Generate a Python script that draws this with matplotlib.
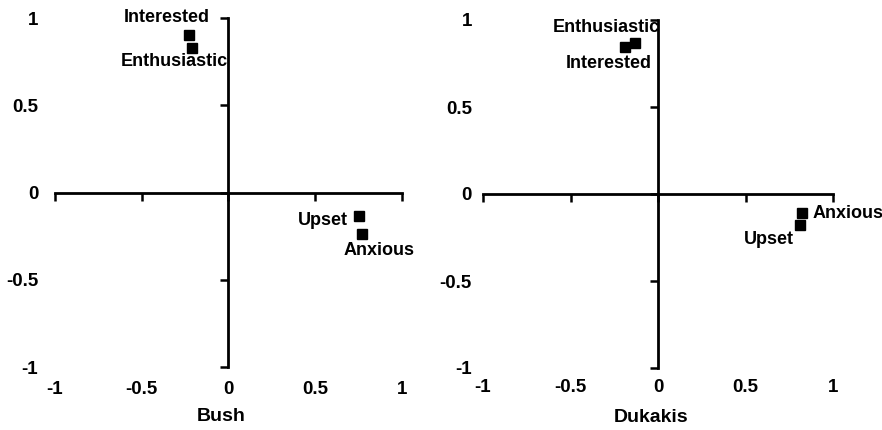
import matplotlib
matplotlib.use("Agg")
import matplotlib.pyplot as plt

plt.rcParams['font.family'] = ['Liberation Sans', 'DejaVu Sans']
plt.rcParams['axes.unicode_minus'] = False

# ---- data ----
ticks = [-1, -0.5, 0, 0.5, 1]
tick_labels = ["-1", "-0.5", "0", "0.5", "1"]

emotions = ["Interested", "Enthusiastic", "Upset", "Anxious"]
bush_x = [-0.225, -0.21, 0.75, 0.77]
bush_y = [0.905, 0.83, -0.135, -0.235]
dukakis_emotions = ["Enthusiastic", "Interested", "Anxious", "Upset"]
dukakis_x = [-0.13, -0.19, 0.82, 0.81]
dukakis_y = [0.87, 0.845, -0.11, -0.18]
candidates = ["Bush", "Dukakis"]

# ---- layout (label offsets in pixels, ha) ----
bush_offsets = {"Interested": (-23, 17, 'center'), "Enthusiastic": (-18, -14, 'center'),
                "Upset": (-36, -4, 'center'), "Anxious": (17, -17, 'center')}
duk_offsets = {"Enthusiastic": (-29, 15, 'center'), "Interested": (-16, -17, 'center'),
               "Anxious": (11, 0, 'left'), "Upset": (-31, -14, 'center')}

W, H = 882, 430
fig = plt.figure(figsize=(W / 100, H / 100), dpi=100)

panels = [
    dict(rect=[55 / W, 1 - 367 / H, 347 / W, 349 / H], xs=bush_x, ys=bush_y, names=emotions,
         offs=bush_offsets, ypad=12, xpad=10, label=candidates[0], lx=0.48),
    dict(rect=[483 / W, 1 - 368 / H, 350 / W, 348 / H], xs=dukakis_x, ys=dukakis_y, names=dukakis_emotions,
         offs=duk_offsets, ypad=8, xpad=8, label=candidates[1], lx=0.48),
]

for p in panels:
    ax = fig.add_axes(p['rect'])
    ax.set_xlim(-1, 1)
    ax.set_ylim(-1, 1)
    for s in ['top', 'right']:
        ax.spines[s].set_visible(False)
    ax.spines['left'].set_position(('data', 0))
    ax.spines['bottom'].set_position(('data', 0))
    for s in ['left', 'bottom']:
        ax.spines[s].set_linewidth(2.0)
        ax.spines[s].set_bounds(-1, 1)
    ax.set_xticks(ticks)
    ax.set_yticks(ticks)
    ax.tick_params(axis='both', direction='out', length=6, width=1.8,
                   labelleft=False, labelbottom=False)
    ax.patch.set_alpha(0)

    # tick labels at outer edges
    secy = ax.secondary_yaxis('left')
    secy.spines['left'].set_visible(False)
    secy.set_yticks(ticks)
    secy.set_yticklabels(tick_labels)
    secy.tick_params(length=0, pad=p['ypad'], labelsize=13.5)
    for t in secy.get_yticklabels():
        t.set_fontweight('bold')
    secx = ax.secondary_xaxis('bottom')
    secx.spines['bottom'].set_visible(False)
    secx.set_xticks(ticks)
    secx.set_xticklabels(tick_labels)
    secx.tick_params(length=0, pad=p['xpad'], labelsize=13.5)
    for t in secx.get_xticklabels():
        t.set_fontweight('bold')

    ax.plot(p['xs'], p['ys'], linestyle='none', marker='s', markersize=6.5, color='black', clip_on=False)
    for name, x, y in zip(p['names'], p['xs'], p['ys']):
        dx, dy, ha = p['offs'][name]
        ax.annotate(name, (x, y), xytext=(dx, dy), textcoords='offset pixels',
                    ha=ha, va='center', fontsize=13, fontweight='bold')

    ax.text(p['lx'], -0.143, p['label'], transform=ax.transAxes, ha='center', va='center',
            fontsize=14, fontweight='bold')

fig.savefig("out.png", dpi=100)
